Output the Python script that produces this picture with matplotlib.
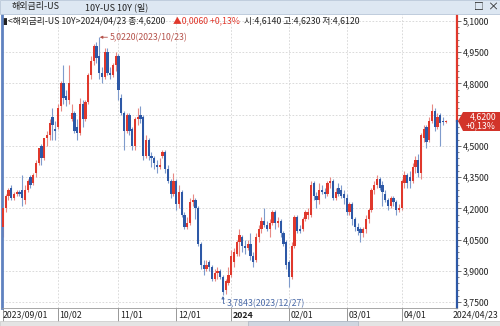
import numpy as np
import pandas as pd
import matplotlib.pyplot as plt
from matplotlib.patches import Rectangle, Polygon
from matplotlib.lines import Line2D
from matplotlib.transforms import blended_transform_factory

plt.rcParams['font.family'] = ['Noto Sans CJK KR', 'DejaVu Sans']

# trading days shown on the chart
holidays = ['2023-09-04', '2023-11-23', '2023-12-25', '2024-01-01', '2024-01-15', '2024-03-29']
dates = pd.bdate_range('2023-09-01', '2024-04-23').drop(pd.to_datetime(holidays))

# daily OHLC, US 10Y yield (%)
opens = [
    4.11, 4.20, 4.26, 4.30, 4.25, 4.27, 4.28, 4.29, 4.24, 4.29, 4.35, 4.32, 4.37, 4.42, 4.50, 4.44, 4.54, 4.55, 4.64, 4.58,
    4.59, 4.69, 4.80, 4.74, 4.72, 4.63, 4.66, 4.59, 4.56, 4.70, 4.63, 4.71, 4.84, 4.91, 4.98, 4.93, 4.85, 4.83, 4.95, 4.85, 4.84, 4.89,
    4.93, 4.73, 4.66, 4.57, 4.65, 4.58, 4.50, 4.63, 4.65, 4.64, 4.45, 4.53, 4.45, 4.44, 4.41, 4.40, 4.45, 4.47, 4.39, 4.33, 4.27,
    4.33, 4.22, 4.28, 4.17, 4.11, 4.13, 4.23, 4.24, 4.20, 4.03, 3.93, 3.91, 3.94, 3.92, 3.86, 3.89, 3.90, 3.87, 3.81, 3.84,
    3.88, 3.94, 3.98, 4.04, 4.06, 4.02, 4.01, 4.03, 3.97, 3.95, 4.06, 4.10, 4.14, 4.12, 4.10, 4.13, 4.18, 4.13, 4.14, 4.08, 4.04,
    3.94, 3.87, 4.02, 4.16, 4.10, 4.10, 4.15, 4.17, 4.17, 4.32, 4.26, 4.24, 4.29, 4.28, 4.27, 4.32, 4.33, 4.25, 4.30, 4.29, 4.27,
    4.25, 4.18, 4.22, 4.15, 4.11, 4.10, 4.08, 4.10, 4.15, 4.19, 4.29, 4.31, 4.34, 4.31, 4.27, 4.24, 4.21, 4.25, 4.23, 4.19,
    4.20, 4.32, 4.36, 4.35, 4.33, 4.40, 4.43, 4.37, 4.54, 4.59, 4.53, 4.62, 4.67, 4.59, 4.65, 4.62, 4.614,
]
highs = [
    4.20, 4.27, 4.30, 4.31, 4.28, 4.29, 4.29, 4.36, 4.31, 4.34, 4.36, 4.37, 4.43, 4.49, 4.51, 4.54, 4.57, 4.63, 4.68, 4.62,
    4.70, 4.81, 4.89, 4.77, 4.89, 4.70, 4.67, 4.63, 4.73, 4.72, 4.72, 4.85, 4.93, 4.99, 5.00, 5.022, 4.88, 4.97, 4.97, 4.88, 4.90, 4.95,
    4.94, 4.75, 4.67, 4.66, 4.66, 4.59, 4.64, 4.68, 4.69, 4.65, 4.55, 4.54, 4.47, 4.45, 4.43, 4.44, 4.48, 4.48, 4.41, 4.34, 4.37,
    4.34, 4.31, 4.29, 4.18, 4.16, 4.25, 4.27, 4.25, 4.21, 4.04, 3.95, 3.95, 3.95, 3.93, 3.91, 3.92, 3.91, 3.88, 3.86, 3.92,
    4.00, 4.01, 4.05, 4.10, 4.07, 4.05, 4.05, 4.08, 3.99, 4.08, 4.12, 4.16, 4.20, 4.14, 4.15, 4.19, 4.19, 4.16, 4.15, 4.09, 4.05,
    3.95, 4.04, 4.17, 4.17, 4.12, 4.16, 4.19, 4.20, 4.33, 4.33, 4.28, 4.32, 4.31, 4.30, 4.33, 4.35, 4.34, 4.30, 4.32, 4.31, 4.29,
    4.27, 4.23, 4.23, 4.16, 4.13, 4.11, 4.11, 4.17, 4.20, 4.30, 4.33, 4.36, 4.35, 4.33, 4.29, 4.25, 4.26, 4.26, 4.24, 4.22,
    4.34, 4.38, 4.37, 4.38, 4.42, 4.45, 4.46, 4.56, 4.60, 4.60, 4.64, 4.70, 4.68, 4.66, 4.66, 4.64, 4.623,
]
lows = [
    4.06, 4.18, 4.24, 4.24, 4.24, 4.26, 4.26, 4.21, 4.22, 4.28, 4.30, 4.31, 4.35, 4.41, 4.41, 4.43, 4.50, 4.53, 4.53, 4.53,
    4.58, 4.67, 4.70, 4.69, 4.70, 4.62, 4.56, 4.53, 4.55, 4.59, 4.62, 4.70, 4.82, 4.89, 4.90, 4.82, 4.80, 4.82, 4.84, 4.82, 4.83, 4.86,
    4.72, 4.65, 4.48, 4.56, 4.55, 4.48, 4.48, 4.60, 4.61, 4.43, 4.44, 4.43, 4.40, 4.39, 4.37, 4.39, 4.44, 4.37, 4.32, 4.25, 4.26,
    4.19, 4.20, 4.16, 4.10, 4.10, 4.12, 4.21, 4.15, 4.02, 3.91, 3.88, 3.90, 3.90, 3.85, 3.85, 3.86, 3.86, 3.7843, 3.79, 3.83,
    3.87, 3.92, 3.97, 3.97, 3.99, 3.98, 4.00, 3.95, 3.92, 3.94, 4.04, 4.08, 4.11, 4.09, 4.06, 4.12, 4.10, 4.11, 4.06, 4.02, 3.91,
    3.82, 3.86, 4.01, 4.08, 4.08, 4.09, 4.14, 4.15, 4.16, 4.24, 4.20, 4.22, 4.27, 4.25, 4.26, 4.30, 4.24, 4.24, 4.26, 4.25, 4.22,
    4.17, 4.17, 4.12, 4.09, 4.07, 4.04, 4.06, 4.08, 4.13, 4.18, 4.27, 4.30, 4.29, 4.21, 4.23, 4.19, 4.20, 4.21, 4.17, 4.18,
    4.19, 4.30, 4.30, 4.30, 4.32, 4.37, 4.35, 4.34, 4.52, 4.49, 4.52, 4.61, 4.57, 4.58, 4.50, 4.60, 4.612,
]
closes = [
    4.20, 4.26, 4.29, 4.25, 4.27, 4.28, 4.27, 4.25, 4.29, 4.33, 4.31, 4.36, 4.42, 4.49, 4.44, 4.54, 4.55, 4.61, 4.60, 4.57,
    4.68, 4.80, 4.73, 4.72, 4.80, 4.66, 4.57, 4.56, 4.70, 4.63, 4.71, 4.84, 4.91, 4.98, 4.92, 4.85, 4.83, 4.95, 4.85, 4.84, 4.89, 4.93,
    4.77, 4.66, 4.57, 4.65, 4.57, 4.50, 4.63, 4.64, 4.63, 4.45, 4.53, 4.45, 4.44, 4.42, 4.40, 4.41, 4.47, 4.39, 4.33, 4.27, 4.33,
    4.22, 4.28, 4.17, 4.11, 4.13, 4.23, 4.24, 4.20, 4.03, 3.93, 3.91, 3.93, 3.92, 3.86, 3.89, 3.90, 3.87, 3.80, 3.85, 3.88,
    3.97, 3.99, 4.04, 4.07, 4.02, 4.01, 4.03, 3.97, 3.94, 4.06, 4.10, 4.14, 4.12, 4.10, 4.13, 4.18, 4.13, 4.14, 4.08, 4.03, 3.93,
    3.87, 4.02, 4.16, 4.09, 4.09, 4.15, 4.18, 4.18, 4.31, 4.26, 4.24, 4.29, 4.28, 4.27, 4.32, 4.33, 4.25, 4.28, 4.27, 4.26, 4.25,
    4.18, 4.22, 4.15, 4.11, 4.09, 4.08, 4.10, 4.15, 4.19, 4.29, 4.31, 4.34, 4.30, 4.28, 4.24, 4.21, 4.25, 4.23, 4.19, 4.20,
    4.33, 4.36, 4.32, 4.33, 4.40, 4.43, 4.37, 4.55, 4.58, 4.52, 4.62, 4.67, 4.59, 4.64, 4.61, 4.614, 4.62,
]

y_ticks = [3.75, 3.90, 4.05, 4.20, 4.35, 4.50, 4.65, 4.80, 4.95, 5.10]
last_price = 4.62
high_val, high_idx = 5.022, 35
low_val, low_idx = 3.7843, 80

RED = '#e0382c'
BLUE = '#2d58a6'
W, H = 500, 326


def fx(px):
    return px / W


def fy(py):
    return 1 - py / H


def fmt(v):
    return f'{v:.4f}'.replace('.', ',')


o = np.array(opens)
h = np.array(highs)
l = np.array(lows)
c = np.array(closes)
x = np.arange(len(dates))
up = c >= o

fig = plt.figure(figsize=(5, 3.26), dpi=100)
fig.patch.set_facecolor('white')

# title bar
fig.patches.append(Rectangle((0, fy(14)), 1, 14 / H, transform=fig.transFigure,
                             facecolor='#dde7f2', edgecolor='#b8c6d8', lw=0.6))
fig.text(fx(12), fy(7), '해외금리-US', fontsize=6.5, va='center', color='#222222')
fig.text(fx(85), fy(7), '10Y-US 10Y (일)', fontsize=6.5, va='center', color='#222222')
fig.text(fx(474), fy(7), '□', fontsize=7, va='center', color='#222222')
fig.text(fx(487), fy(7), '×', fontsize=8, va='center', color='#222222')

ax = fig.add_axes([fx(2), fy(308), 455 / W, (308 - 14) / H])
ax.set_xlim(-0.36, 165.1)
ax.set_ylim(3.7212, 5.1336)

# candles
wick_cols = np.where(up, '#e88a84', '#7f9bcc')
body_cols = np.where(up, RED, BLUE)
ax.vlines(x, l, h, colors=wick_cols, lw=0.8, zorder=2)
body_h = np.maximum(np.abs(c - o), 0.004)
ax.bar(x, body_h, bottom=np.minimum(o, c), width=0.78, color=body_cols, lw=0, zorder=3)

# grid
for v in y_ticks:
    ax.axhline(v, color='#d4d4d4', lw=0.6, ls=(0, (2, 2)), zorder=1)

month_idx = [int(np.where(dates.to_period('M') == p)[0][0]) for p in dates.to_period('M').unique()]
month_lbls = []
for k, i in enumerate(month_idx):
    d = dates[i]
    if k == 0:
        month_lbls.append(d.strftime('%Y/%m/%d'))
    elif d.month == 1:
        month_lbls.append(d.strftime('%Y'))
    else:
        month_lbls.append(d.strftime('%m/%d'))
for i in month_idx[1:]:
    ax.axvline(i, color='#d4d4d4', lw=0.6, ls=(0, (2, 2)), zorder=1)

# x axis ticks and labels
ax.set_xticks(month_idx)
ax.set_xticklabels([])
ax.tick_params(axis='x', length=11, width=0.6, color='#888888')
tb = blended_transform_factory(ax.transData, fig.transFigure)
for i, s in zip(month_idx, month_lbls):
    ax.text(i + 0.6 if i else 0.0, fy(315), s, transform=tb, fontsize=6.3, va='center', ha='left',
            color='#222222', fontweight='bold' if len(s) == 4 else 'normal', clip_on=False)
fig.text(fx(498), fy(315), dates[-1].strftime('%Y/%m/%d'), fontsize=6.3, ha='right', va='center',
         color='#222222')

# y axis on the right (the 4,6500 label sits under the price box)
ax.yaxis.tick_right()
ax.set_yticks(y_ticks)
ax.set_yticklabels(['' if abs(v - 4.65) < 1e-6 else fmt(v) for v in y_ticks], fontsize=6.3, color='#222222')
ax.set_yticks(np.arange(3.75, 5.11, 0.03), minor=True)
ax.tick_params(axis='y', which='major', length=3, width=0.6, pad=1, color='#555555')
ax.tick_params(axis='y', which='minor', length=1.5, width=0.5, color='#555555')

for s in ['top', 'right', 'left']:
    ax.spines[s].set_visible(False)
ax.spines['bottom'].set_color('#999999')
ax.spines['bottom'].set_linewidth(0.6)

tr = blended_transform_factory(ax.transAxes, ax.transData)
ax.add_line(Line2D([1, 1], [last_price, 5.1336], transform=tr, color=RED, lw=1.6, clip_on=False))
ax.add_line(Line2D([1, 1], [3.7212, last_price], transform=tr, color=BLUE, lw=1.6, clip_on=False))
ax.add_line(Line2D([0, 0], [3.7212, 5.1336], transform=tr, color='#5f82c0', lw=2, clip_on=False))

# info line
fig.text(fx(3), fy(21), '▮<해외금리-US 10Y>2024/04/23 종:4,6200', fontsize=6.3, va='center', color='#222222')
fig.text(fx(173), fy(21), '▲0,0060 +0,13%', fontsize=6.3, va='center', color=RED)
fig.text(fx(244), fy(21), '시:4,6140 고:4,6230 저:4,6120', fontsize=6.3, va='center', color='#222222')

# high / low marks
ax.annotate(f'{fmt(high_val)}({dates[high_idx].strftime("%Y/%m/%d")})', xy=(high_idx + 0.2, high_val),
            xytext=(high_idx + 4, high_val), fontsize=6.3, color='#b5524a', va='center',
            arrowprops=dict(arrowstyle='-|>', color='#b5524a', lw=0.6, mutation_scale=4,
                            shrinkA=0, shrinkB=0))
ax.annotate(f'{fmt(low_val)}({dates[low_idx].strftime("%Y/%m/%d")})', xy=(low_idx, low_val - 0.005),
            xytext=(low_idx + 1.5, 3.743), fontsize=6.3, color='#4a6aa8', va='center',
            arrowprops=dict(arrowstyle='-|>', color='#4a6aa8', lw=0.6, mutation_scale=4,
                            shrinkA=0, shrinkB=0,
                            connectionstyle='angle,angleA=180,angleB=90,rad=0'))

# current price box
yc = 121
fig.patches.append(Polygon([(fx(458), fy(yc)), (fx(463), fy(yc - 9)), (fx(500), fy(yc - 9)),
                            (fx(500), fy(yc + 10)), (fx(463), fy(yc + 10))],
                           closed=True, transform=fig.transFigure, facecolor='#d2342a', edgecolor='none'))
fig.text(fx(496), fy(yc - 4), fmt(last_price), fontsize=6.3, ha='right', va='center', color='white')
fig.text(fx(496), fy(yc + 5), '+0,13%', fontsize=6.3, ha='right', va='center', color='white')

# scroll bar at bottom
fig.patches.append(Rectangle((0, 0), 1, 5 / H, transform=fig.transFigure,
                             facecolor='#e4e4e4', edgecolor='#c8c8c8', lw=0.5))
fig.patches.append(Rectangle((fx(248), 0), 110 / W, 5 / H, transform=fig.transFigure,
                             facecolor='#cfd6e0', edgecolor='#aab4c2', lw=0.5))

fig.savefig('out.png', dpi=100)
